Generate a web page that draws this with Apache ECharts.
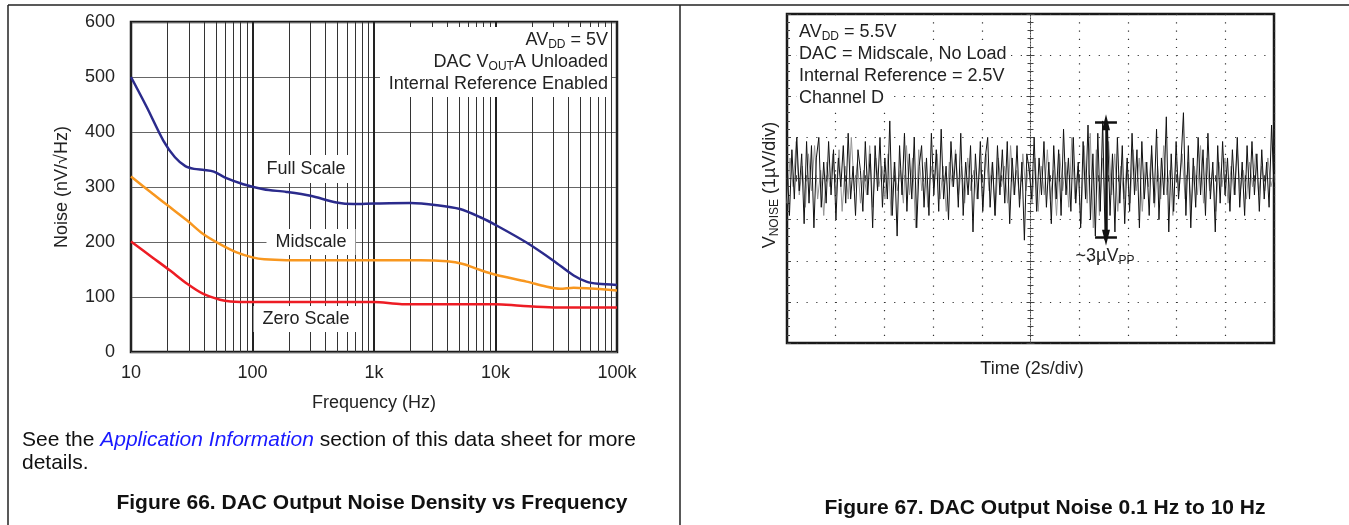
<!DOCTYPE html>
<html lang="en">
<head>
<meta charset="UTF-8">
<title>DAC Output Noise</title>
<script src="https://cdn.jsdelivr.net/npm/echarts@6.0.0/dist/echarts.min.js"></script>
<style>
  html, body { margin: 0; padding: 0; background: #fff; }
  #main { width: 1349px; height: 525px; }
</style>
</head>
<body>
<div id="main"></div>
<script>
const FONT = '"Liberation Sans", Arial, sans-serif';

// ---- Figure 66: noise density vs frequency (Hz, nV/rtHz) ----
const freqTickLabels = ['10', '100', '1k', '10k', '100k'];
const fullScale = [[10, 500], [13.5, 445], [18.5, 384], [23, 354], [28, 338], [33, 333], [40, 331], [48, 328],
  [61, 316], [84, 305], [123, 296], [190, 291], [300, 284], [490, 272], [680, 269], [1000, 270], [2000, 271],
  [3300, 267], [5100, 260], [7500, 245], [10200, 230], [18000, 199], [30000, 166], [44000, 139], [56000, 128],
  [70000, 124], [100000, 122]];
const midScale = [[10, 319], [15, 288], [21, 263], [29, 239], [39, 215], [54, 196], [74, 181], [100, 172],
  [125, 168.5], [190, 167], [1000, 167], [2400, 167], [4000, 165], [5400, 160], [7500, 149], [10200, 140],
  [18000, 128], [26000, 119], [34000, 115], [44000, 117], [56000, 116], [100000, 112]];
const zeroScale = [[10, 201], [15, 172], [21, 148], [29, 124], [39, 106], [54, 95], [66, 92], [100, 91],
  [1000, 91], [1700, 87], [10000, 87], [16000, 84], [30000, 81], [100000, 81]];

// ---- Figure 67: 0.1 Hz to 10 Hz noise, uV, over 20 s (2 s/div) ----
const timeSpan = 20;
const noiseBlack = [
  0.4, -0.9, 0.7, -0.5, 1.0, -0.3, 0.6, -1.1, 0.9, -0.6,
  0.8, -1.2, 0.5, 1.0, -0.7, 0.4, -0.6, 0.9, -0.4, 0.7,
  -1.0, 0.5, -0.2, 0.8, -0.6, 1.1, -0.5, 0.3, -0.9, 0.7,
  0.2, -0.8, 0.9, -0.4, 0.6, -1.2, 0.8, -0.3, 1.0, -0.7,
  0.5, -0.5, 1.4, -0.9, 0.4, -1.4, 0.8, -0.4, 1.1, -0.8,
  0.6, -0.5, 1.0, -1.2, 0.3, 0.8, -0.7, 0.5, -0.9, 1.1,
  -0.4, 0.7, -0.8, 1.2, -0.5, 0.3, -1.0, 0.9, -0.2, 0.6,
  -0.7, 1.1, -0.9, 0.4, -0.4, 0.8, -1.3, 0.6, -0.5, 0.9,
  -0.8, 0.5, 1.0, -0.7, 0.4, -0.9, 0.8, -0.4, 0.7, -0.6,
  0.9, -1.1, 0.5, -0.4, 0.8, -0.7, 0.4, -1.5, 0.6, 0.2,
  -0.5, 1.0, -0.8, 0.5, -0.4, 0.9, -0.7, 0.4, -1.1, 0.8,
  -0.5, 0.7, -0.9, 1.2, -0.4, 0.5, -0.8, 1.0, -0.6, 0.4,
  -1.2, 0.9, -0.5, 1.3, -1.0, 0.6, -1.4, 1.1, -0.8, 1.4,
  -1.5, 1.2, -0.9, 0.6, -1.3, 1.0, -0.6, 0.8, -1.1, 0.5,
  -0.8, 1.1, -0.4, 0.7, -1.2, 0.9, -0.5, 0.4, -0.9, 0.8,
  -0.6, 1.2, -1.0, 0.5, -0.4, 1.5, -1.3, 0.6, -0.8, 0.9,
  -0.5, 0.4, 1.6, -0.9, 0.8, -1.2, 0.5, -0.7, 1.0, -0.4,
  0.7, -0.9, 1.1, -0.5, 0.4, -1.3, 0.8, -0.6, 0.9, -0.4,
  0.5, -0.8, 0.7, -0.4, 1.0, -0.7, 0.4, -0.9, 0.8, -0.5,
  0.9, -0.4, 0.6, -0.8, 0.7, -0.5, 0.4, -0.7, 1.3, -0.2
];
const noiseGray = [
  -0.6, 0.5, -0.2, 0.9, -0.4, 0.3, -0.7, 0.6, -0.3, 0.8, -0.5, 0.2, -0.9, 0.4, -0.2, 0.6,
  -0.4, 0.7, -0.8, 0.3, -0.5, 1.0, -0.3, 0.4, -0.6, 0.2, -0.4, 0.8, -0.7, 0.5, -0.2, 0.3,
  -0.5, 0.6, -0.9, 0.4, -0.3, 0.2, -0.6, 0.8, -0.4, 0.5, -1.2, 0.7, -0.3, 0.4, -0.7, 0.3,
  -0.2, 0.6, -0.5, 0.3, -0.8, 0.4, -0.2, 0.7, -0.4, 0.3, -0.6, 0.5, -0.3, 0.2, -0.5, 0.4,
  -0.7, 0.6, -0.3, 0.4, -0.9, 0.5, -0.2, 0.3, -0.6, 0.8, -0.4, 0.2, -0.5, 0.6, -0.3, 0.4,
  -0.6, 0.5, -0.8, 0.3, -0.4, 0.7, -0.5, 0.2, -0.9, 0.6, -0.3, 0.4, -0.7, 1.0, -0.5, 0.3,
  -1.1, 0.8, -0.6, 1.1, -1.2, 0.7, -0.9, 0.5, -0.7, 0.9, -0.4, 0.6, -0.8, 0.3, -0.5, 0.4,
  -0.6, 0.7, -0.3, 0.5, -0.8, 0.4, -0.2, 0.6, -0.7, 0.3, -0.5, 0.8, -0.4, 0.2, -0.9, 0.5,
  -0.3, 0.6, -0.5, 0.4, -0.7, 0.3, -0.4, 0.8, -0.6, 0.5, -0.3, 0.2, -0.8, 0.4, -0.2, 0.5,
  -0.6, 0.3, -0.4, 0.7, -0.3, 0.2, -0.5, 0.4, -0.2, 0.6, -0.4, 0.3, -0.3, 0.5, -0.2, 0.1
];
// the ~3uVpp marker (time s, uV)
const ppArrow = { t: 13.1, top: 1.37, bottom: -1.44, cap: 0.45 };

// 2..9 lines inside each decade
const minorFreqs = [];
for (let d = 10; d < 100000; d *= 10) {
  for (let m = 2; m <= 9; m++) minorFreqs.push(m * d);
}

function toTrace(vals) {
  return vals.map((v, i) => [i * timeSpan / (vals.length - 1), v]);
}

function txt(x, y, text, extra) {
  return {
    type: 'text', x: x, y: y, z: 100,
    style: Object.assign({
      text: text, font: '18px ' + FONT, fill: '#222',
      align: 'left', textAlign: 'left', verticalAlign: 'middle', textVerticalAlign: 'middle'
    }, extra || {})
  };
}
const subRich = {
  a: { fontSize: 18, fontFamily: FONT, fill: '#222', lineHeight: 22 },
  s: { fontSize: 12, fontFamily: FONT, fill: '#222', lineHeight: 10, verticalAlign: 'bottom' }
};

// center cross-hair axes of the scope screen
function centerX(pos, inside) {
  return {
    gridIndex: 1, type: 'value', min: 0, max: timeSpan, interval: 2, position: pos, offset: -164.5,
    axisLine: { show: true, lineStyle: { color: '#444', width: 1, type: [1, 2] } },
    axisTick: { show: true, inside: inside, length: 4, lineStyle: { color: '#444' } },
    minorTick: { show: true, splitNumber: 5, length: 3, lineStyle: { color: '#444' } },
    axisLabel: { show: false }, splitLine: { show: false }
  };
}
function centerY(pos, inside) {
  return {
    gridIndex: 1, type: 'value', min: -4, max: 4, interval: 1, position: pos, offset: -243.5,
    axisLine: { show: true, lineStyle: { color: '#444', width: 1, type: [1, 2] } },
    axisTick: { show: true, inside: inside, length: 4, lineStyle: { color: '#444' } },
    minorTick: { show: true, splitNumber: 5, length: 3, lineStyle: { color: '#444' } },
    axisLabel: { show: false }, splitLine: { show: false }
  };
}

const chart = echarts.init(document.getElementById('main'));
chart.setOption({
  animation: false,
  grid: [
    { left: 131, top: 22, width: 486, height: 330, show: true, borderColor: '#1a1a1a', borderWidth: 2.5 },
    { left: 787, top: 14, width: 487, height: 329, show: true, borderColor: '#1a1a1a', borderWidth: 2.5 }
  ],
  xAxis: [
    {
      gridIndex: 0, type: 'log', logBase: 10, min: 10, max: 100000,
      axisLine: { show: false }, axisTick: { show: false },
      axisLabel: {
        fontSize: 18, fontFamily: FONT, color: '#222', margin: 12,
        formatter: v => freqTickLabels[Math.round(Math.log10(v)) - 1]
      },
      splitLine: { show: true, lineStyle: { color: '#222', width: 2 } }
    },
    {
      gridIndex: 1, type: 'value', min: 0, max: timeSpan, interval: 2,
      axisLine: { show: false },
      axisTick: { show: true, inside: true, length: 4, lineStyle: { color: '#444' } },
      minorTick: { show: true, splitNumber: 5, length: 3, lineStyle: { color: '#444' } },
      axisLabel: { show: false },
      splitLine: { show: true, lineStyle: { color: '#333', width: 1.2, type: [1.2, 7.025] } }
    },
    centerX('top', true),
    centerX('bottom', true)
  ],
  yAxis: [
    {
      gridIndex: 0, type: 'value', min: 0, max: 600, interval: 100,
      axisLine: { show: false }, axisTick: { show: false },
      axisLabel: { fontSize: 18, fontFamily: FONT, color: '#222', margin: 16 },
      splitLine: { show: true, lineStyle: { color: '#666', width: 1 } }
    },
    {
      gridIndex: 1, type: 'value', min: -4, max: 4, interval: 1,
      axisLine: { show: false },
      axisTick: { show: true, inside: true, length: 4, lineStyle: { color: '#444' } },
      minorTick: { show: true, splitNumber: 5, length: 3, lineStyle: { color: '#444' } },
      axisLabel: { show: false },
      splitLine: { show: true, lineStyle: { color: '#333', width: 1.2, type: [1.2, 8.54] } }
    },
    centerY('left', true),
    centerY('right', true)
  ],
  series: [
    {
      // minor frequency grid lines
      type: 'line', xAxisIndex: 0, yAxisIndex: 0, data: [[10, 0]], symbol: 'none',
      lineStyle: { opacity: 0 }, silent: true, z: 1,
      markLine: {
        silent: true, symbol: 'none', z: 1, label: { show: false },
        lineStyle: { color: '#333', width: 1, type: 'solid' },
        data: minorFreqs.map(f => ({ xAxis: f }))
      }
    },
    { name: 'Full Scale', type: 'line', xAxisIndex: 0, yAxisIndex: 0, data: fullScale, smooth: 0.3,
      symbol: 'none', z: 10, lineStyle: { color: '#2b2b8c', width: 2.5 } },
    { name: 'Midscale', type: 'line', xAxisIndex: 0, yAxisIndex: 0, data: midScale, smooth: 0.3,
      symbol: 'none', z: 10, lineStyle: { color: '#f8971f', width: 2.5 } },
    { name: 'Zero Scale', type: 'line', xAxisIndex: 0, yAxisIndex: 0, data: zeroScale, smooth: 0.3,
      symbol: 'none', z: 10, lineStyle: { color: '#ed1c24', width: 2.5 } },
    { type: 'line', xAxisIndex: 1, yAxisIndex: 1, data: toTrace(noiseGray), symbol: 'none', z: 5,
      lineStyle: { color: '#959595', width: 1 } },
    {
      type: 'line', xAxisIndex: 1, yAxisIndex: 1, data: toTrace(noiseBlack), symbol: 'none', z: 6,
      lineStyle: { color: '#111', width: 1 },
      markLine: {
        silent: true, z: 20, label: { show: false },
        symbol: ['none', 'none'],
        lineStyle: { color: '#111', width: 2.5, type: 'solid' },
        data: [
          [{ coord: [ppArrow.t, ppArrow.top], symbol: 'triangle', symbolSize: [8, 16] },
           { coord: [ppArrow.t, ppArrow.bottom], symbol: 'triangle', symbolSize: [8, 16] }],
          [{ coord: [ppArrow.t - ppArrow.cap, ppArrow.top] }, { coord: [ppArrow.t + ppArrow.cap, ppArrow.top] }],
          [{ coord: [ppArrow.t - ppArrow.cap, ppArrow.bottom] }, { coord: [ppArrow.t + ppArrow.cap, ppArrow.bottom] }]
        ]
      }
    }
  ],
  graphic: [
    // table frame
    { type: 'line', z: 100, shape: { x1: 8, y1: 5, x2: 1349, y2: 5 }, style: { stroke: '#222', lineWidth: 1.5 } },
    { type: 'line', z: 100, shape: { x1: 8, y1: 5, x2: 8, y2: 525 }, style: { stroke: '#222', lineWidth: 1.5 } },
    { type: 'line', z: 100, shape: { x1: 680, y1: 5, x2: 680, y2: 525 }, style: { stroke: '#222', lineWidth: 1.5 } },

    // left chart notes
    { type: 'rect', z: 90, shape: { x: 380, y: 27, width: 231, height: 70 }, style: { fill: '#fff' } },
    txt(608, 40, '{a|AV}{s|DD}{a| = 5V}', { align: 'right', textAlign: 'right', rich: subRich }),
    txt(608, 62, '{a|DAC V}{s|OUT}{a|A Unloaded}', { align: 'right', textAlign: 'right', rich: subRich }),
    txt(608, 84, 'Internal Reference Enabled', { align: 'right', textAlign: 'right' }),
    txt(306, 169, 'Full Scale', { align: 'center', textAlign: 'center', backgroundColor: '#fff', padding: [5, 9], lineHeight: 18 }),
    txt(311, 242, 'Midscale', { align: 'center', textAlign: 'center', backgroundColor: '#fff', padding: [4, 9], lineHeight: 18 }),
    txt(306, 319, 'Zero Scale', { align: 'center', textAlign: 'center', backgroundColor: '#fff', padding: [4, 9], lineHeight: 18 }),
    txt(374, 403, 'Frequency (Hz)', { align: 'center', textAlign: 'center' }),
    Object.assign(txt(62, 187, 'Noise (nV/\u221AHz)', { align: 'center', textAlign: 'center' }), { rotation: Math.PI / 2 }),
    txt(22, 440, '{n|See the }{i|Application Information}{n| section of this data sheet for more}', {
      rich: {
        n: { fontSize: 21, fontFamily: FONT, fill: '#111' },
        i: { fontSize: 21, fontFamily: FONT, fill: '#1a1aff', fontStyle: 'italic' }
      }
    }),
    txt(22, 463, 'details.', { font: '21px ' + FONT, fill: '#111' }),
    txt(372, 503, 'Figure 66. DAC Output Noise Density vs Frequency',
      { align: 'center', textAlign: 'center', font: 'bold 21px ' + FONT, fill: '#111' }),

    // right chart notes
    txt(797, 32, '{a|AV}{s|DD}{a| = 5.5V}', { rich: subRich, backgroundColor: '#fff', padding: [0, 2] }),
    txt(797, 54, 'DAC = Midscale, No Load', { backgroundColor: '#fff', padding: [2, 2], lineHeight: 18 }),
    txt(797, 76, 'Internal Reference = 2.5V', { backgroundColor: '#fff', padding: [2, 2], lineHeight: 18 }),
    txt(797, 98, 'Channel D', { backgroundColor: '#fff', padding: [2, 2], lineHeight: 18 }),
    txt(1105, 256, '{a|~3\u00B5V}{s|PP}', { align: 'center', textAlign: 'center', rich: subRich }),
    txt(1032, 369, 'Time (2s/div)', { align: 'center', textAlign: 'center' }),
    Object.assign(txt(770, 185, '{a|V}{s|NOISE}{a| (1\u00B5V/div)}', { align: 'center', textAlign: 'center', rich: subRich }),
      { rotation: Math.PI / 2 }),
    txt(1045, 508, 'Figure 67. DAC Output Noise 0.1 Hz to 10 Hz',
      { align: 'center', textAlign: 'center', font: 'bold 21px ' + FONT, fill: '#111' })
  ]
});
</script>
</body>
</html>
